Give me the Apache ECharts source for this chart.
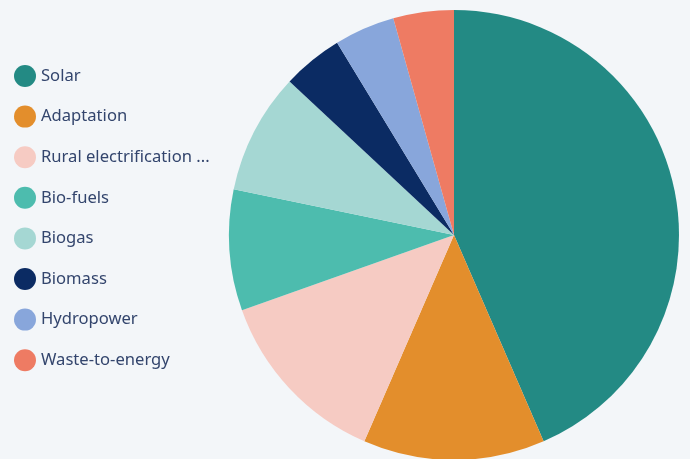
<!DOCTYPE html>
<html><head><meta charset="utf-8">
<script src="https://cdn.jsdelivr.net/npm/echarts@6/dist/echarts.min.js"></script>
<style>html,body{margin:0;padding:0;background:#f3f6f9;}#c{width:690px;height:459px;}</style>
</head><body><div id="c"></div>
<script>
const categories = ["Solar","Adaptation","Rural electrification ...","Bio-fuels","Biogas","Biomass","Hydropower","Waste-to-energy"];
const values = [10,3,3,2,2,1,1,1];
const colors = ["#238a84","#e38e2c","#f6cbc3","#4dbcae","#a5d7d3","#0b2b63","#88a6db","#ee7b63"];
const chart = echarts.init(document.getElementById('c'));
chart.setOption({
  backgroundColor:'#f3f6f9',
  animation:false,
  legend:{
    orient:'vertical', left:9, top:60, padding:5,
    icon:'circle', itemWidth:22, itemHeight:22, itemGap:18.6,
    textStyle:{color:'#33456d', fontSize:16.6, fontFamily:'Noto Sans'},
    data:categories
  },
  series:[{
    type:'pie', center:[454,235], radius:225, startAngle:90, clockwise:true,
    label:{show:false}, labelLine:{show:false},
    itemStyle:{borderWidth:0},
    data:categories.map((n,i)=>({name:n,value:values[i],itemStyle:{color:colors[i]}}))
  }]
});
</script></body></html>
